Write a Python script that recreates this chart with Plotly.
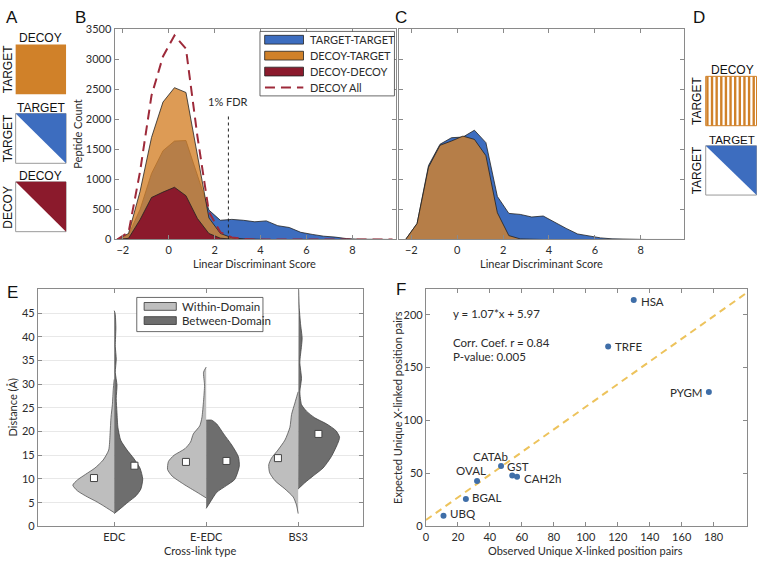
import plotly.graph_objects as go

W, H = 757, 562

# ---- panels B / C : peptide counts per linear discriminant score bin ----
lds_bins = [-2.25, -1.75, -1.25, -0.75, -0.25, 0.25, 0.75, 1.25, 1.75, 2.25, 2.75, 3.25,
            3.75, 4.25, 4.75, 5.25, 5.75, 6.25, 6.75, 7.25, 7.75, 8.25, 8.75, 9.25, 9.75]

b_target_target = [0, 80, 500, 1100, 1480, 1640, 1650, 1060, 490, 320, 335, 320,
                   295, 310, 230, 200, 120, 85, 55, 40, 15, 5, 0, 0, 0]
b_decoy_target = [0, 100, 800, 1700, 2290, 2530, 2450, 1370, 360, 100, 30, 10,
                  0, 0, 0, 0, 0, 0, 0, 0, 0, 0, 0, 0, 0]
b_decoy_decoy = [0, 20, 330, 700, 790, 870, 730, 350, 100, 22, 5, 0,
                 0, 0, 0, 0, 0, 0, 0, 0, 0, 0, 0, 0, 0]
b_decoy_all = [0, 120, 1130, 2400, 3050, 3400, 3180, 1720, 460, 120, 35, 10,
               0, 0, 0, 0, 0, 0, 0, 0, 0, 0, 0, 0, 0]

c_target_target = [0, 266, 1234, 1587, 1696, 1707, 1821, 1614, 717, 435, 418, 375,
                   391, 283, 185, 92, 54, 27, 11, 5, 0, 0, 0, 0, 0]
c_decoy_target = [0, 266, 1206, 1570, 1641, 1723, 1668, 1397, 446, 65, 10, 0,
                  0, 0, 0, 0, 0, 0, 0, 0, 0, 0, 0, 0, 0]

fdr_score = 2.6
fdr_top = 2100

# ---- panel E : split violins (distance, half width) ----
crosslinkers = ["EDC", "E-EDC", "BS3"]

edc_within_d = [2.9, 4.5, 5.3, 6.2, 7.5, 8.7, 9.8, 11.0, 12.3, 14.0, 16.1, 19.5, 23.0, 25.7, 29.0, 31.0]
edc_within_w = [0, 0.13, 0.2, 0.29, 0.40, 0.45, 0.40, 0.31, 0.21, 0.12, 0.06, 0.045, 0.035, 0.02, 0.01, 0]
edc_between_d = [2.7, 3.8, 5.1, 6.5, 7.9, 10.0, 12.3, 14.4, 16.1, 18.2, 20.9, 24.0, 27.0, 29.8,
                 32.5, 35.3, 38.0, 42.0, 44.9, 45.5]
edc_between_w = [0, 0.07, 0.15, 0.24, 0.29, 0.31, 0.28, 0.21, 0.14, 0.07, 0.04, 0.03, 0.022, 0.03,
                 0.012, 0.022, 0.012, 0.018, 0.01, 0]

eedc_within_d = [6.0, 7.2, 8.9, 10.6, 12.0, 13.7, 15.0, 16.4, 17.8, 19.5, 21.2, 22.9, 26.4, 29.8, 32.5, 33.6]
eedc_within_w = [0, 0.10, 0.245, 0.37, 0.42, 0.41, 0.35, 0.23, 0.17, 0.14, 0.07, 0.047, 0.029, 0.018, 0.029, 0]
eedc_between_d = [3.8, 5.1, 7.2, 8.6, 9.9, 12.7, 14.7, 17.1, 19.5, 21.6, 22.4, 22.4]
eedc_between_w = [0, 0.043, 0.115, 0.22, 0.31, 0.36, 0.35, 0.28, 0.19, 0.115, 0.06, 0]

bs3_within_d = [2.7, 4.5, 6.2, 7.9, 9.6, 11.3, 13.0, 14.4, 16.1, 18.2, 20.9, 23.6, 26.0, 27.7, 28.4]
bs3_within_w = [0, 0.018, 0.054, 0.144, 0.25, 0.31, 0.32, 0.29, 0.22, 0.144, 0.09, 0.072, 0.036, 0.011, 0]
bs3_between_d = [7.9, 9.2, 10.6, 12.3, 14.7, 17.5, 18.8, 20.2, 21.6, 22.9, 24.3, 25.7, 28.4, 31.2,
                 34.6, 38.0, 39.7, 42.8, 46.2, 50.0]
bs3_between_w = [0, 0.072, 0.16, 0.27, 0.36, 0.43, 0.45, 0.41, 0.31, 0.18, 0.09, 0.036, 0.018, 0.036,
                 0.018, 0.036, 0.043, 0.025, 0.011, 0.005]

within_mean = [10.2, 13.6, 14.4]
between_mean = [12.8, 13.8, 19.5]

# ---- panel F : observed vs expected cross-linked position pairs ----
proteins = ["HSA", "TRFE", "PYGM", "CATAb", "GST", "CAH2h", "OVAL", "BGAL", "UBQ"]
observed = [130, 114, 177, 47, 54, 57, 32, 25, 11]
expected = [214, 170, 127, 57, 48, 47, 43, 26, 10]
fit_x = [0, 200]
fit_y = [6, 220]

# label placement for panel F (anchor, x shift, y shift in px)
label_style = {
    "HSA": ("left", 5, -2), "TRFE": ("left", 5, 0), "PYGM": ("right", -4, -1),
    "CATAb": ("center", -11, 10), "GST": ("center", 6, 9), "CAH2h": ("left", 5, -2),
    "OVAL": ("center", -6, 10), "BGAL": ("left", 4, 1), "UBQ": ("left", 5, 2),
}

BLUE = "#3D6DBF"
ORANGE = "#D08129"
ORANGE_FILL = "rgba(212,130,42,0.8)"
RED = "#8B1A2C"
DASH_RED = "#9E2A3A"
LIGHT = "#BEBEBE"
DARK = "#6E6E6E"
FONT = "Lato, 'Open Sans', sans-serif"
ARIAL = "Liberation Sans, Arial, sans-serif"
TXT = "#2b2b2b"


def px(x):
    return x / W


def py(y):
    return 1 - y / H


fig = go.Figure()

# B
fig.add_trace(go.Scatter(x=lds_bins, y=b_target_target, fill="tozeroy", fillcolor=BLUE,
                         line=dict(color="#222", width=0.8), xaxis="x", yaxis="y"))
fig.add_trace(go.Scatter(x=lds_bins, y=b_decoy_target, fill="tozeroy", fillcolor=ORANGE_FILL,
                         line=dict(color="#222", width=0.8), xaxis="x", yaxis="y"))
fig.add_trace(go.Scatter(x=lds_bins, y=b_decoy_decoy, fill="tozeroy", fillcolor=RED,
                         line=dict(color="#222", width=0.8), xaxis="x", yaxis="y"))
fig.add_trace(go.Scatter(x=lds_bins, y=b_decoy_all, mode="lines",
                         line=dict(color=DASH_RED, width=2, dash="10px,6px"), xaxis="x", yaxis="y"))
fig.add_trace(go.Scatter(x=[fdr_score, fdr_score], y=[0, fdr_top], mode="lines",
                         line=dict(color="#222", width=1, dash="dot"), xaxis="x", yaxis="y"))

# C
fig.add_trace(go.Scatter(x=lds_bins, y=c_target_target, fill="tozeroy", fillcolor=BLUE,
                         line=dict(color="#222", width=0.8), xaxis="x2", yaxis="y2"))
fig.add_trace(go.Scatter(x=lds_bins, y=c_decoy_target, fill="tozeroy", fillcolor=ORANGE_FILL,
                         line=dict(color="#222", width=0.8), xaxis="x2", yaxis="y2"))

# E
violins = [
    (1, edc_within_d, edc_within_w, edc_between_d, edc_between_w),
    (2, eedc_within_d, eedc_within_w, eedc_between_d, eedc_between_w),
    (3, bs3_within_d, bs3_within_w, bs3_between_d, bs3_between_w),
]
for center, wd, ww, bd, bw in violins:
    fig.add_trace(go.Scatter(x=[center - w for w in ww], y=wd, fill="toself", fillcolor=LIGHT,
                             mode="lines", line=dict(color="#555", width=0.8, shape="spline", smoothing=0.6),
                             xaxis="x3", yaxis="y3"))
    fig.add_trace(go.Scatter(x=[center + w for w in bw], y=bd, fill="toself", fillcolor=DARK,
                             mode="lines", line=dict(color="#444", width=0.8, shape="spline", smoothing=0.6),
                             xaxis="x3", yaxis="y3"))
fig.add_trace(go.Scatter(x=[c - 0.22 for c in (1, 2, 3)], y=within_mean, mode="markers",
                         marker=dict(symbol="square", size=7, color="white", line=dict(color="#444", width=1)),
                         xaxis="x3", yaxis="y3"))
fig.add_trace(go.Scatter(x=[c + 0.22 for c in (1, 2, 3)], y=between_mean, mode="markers",
                         marker=dict(symbol="square", size=7, color="white", line=dict(color="#444", width=1)),
                         xaxis="x3", yaxis="y3"))

# F
fig.add_trace(go.Scatter(x=fit_x, y=fit_y, mode="lines",
                         line=dict(color="#EDC35C", width=2, dash="7px,5px"), xaxis="x4", yaxis="y4"))
fig.add_trace(go.Scatter(x=observed, y=expected, mode="markers",
                         marker=dict(size=6, color="#3F6EA8"), xaxis="x4", yaxis="y4"))

axis_common = dict(showline=True, linecolor="#8a8a8a", linewidth=1, mirror="ticks", ticks="inside",
                   ticklen=4, tickcolor="#8a8a8a", zeroline=False, showgrid=False,
                   tickfont=dict(family=FONT, size=11, color=TXT))

fig.update_layout(
    width=W, height=H, margin=dict(l=0, r=0, t=0, b=0), showlegend=False,
    paper_bgcolor="white", plot_bgcolor="white",
    xaxis=dict(axis_common, domain=[px(112), px(395)], range=[-2.36, 9.92], anchor="y",
               tickvals=[-2, 0, 2, 4, 6, 8]),
    yaxis=dict(axis_common, domain=[py(238), py(23)], range=[0, 3500], anchor="x",
               tickvals=[0, 500, 1000, 1500, 2000, 2500, 3000, 3500]),
    xaxis2=dict(axis_common, domain=[px(398), px(684)], range=[-2.52, 9.9], anchor="y2",
                tickvals=[-2, 0, 2, 4, 6, 8]),
    yaxis2=dict(axis_common, domain=[py(238), py(23)], range=[0, 3500], anchor="x2",
                tickvals=[0, 500, 1000, 1500, 2000, 2500, 3000, 3500], showticklabels=False),
    xaxis3=dict(axis_common, domain=[px(35), px(361)], range=[0.17, 3.7], anchor="y3",
                tickvals=[1, 2, 3], ticktext=crosslinkers),
    yaxis3=dict(axis_common, domain=[py(531.7), py(289)], range=[0, 50], anchor="x3",
                tickvals=[0, 5, 10, 15, 20, 25, 30, 35, 40, 45], showgrid=True, gridcolor="#E8E8E8"),
    xaxis4=dict(axis_common, domain=[px(424.6), px(746.7)], range=[0, 200.7], anchor="y4",
                tickvals=[0, 20, 40, 60, 80, 100, 120, 140, 160, 180]),
    yaxis4=dict(axis_common, domain=[py(531.7), py(289)], range=[0, 224], anchor="x4",
                tickvals=[0, 50, 100, 150, 200]),
)

shapes = []
ann = []


def text(x, y, s, size=11.5, angle=0, family=FONT, xanchor="center", yanchor="middle", color=TXT):
    ann.append(dict(x=px(x), y=py(y), xref="paper", yref="paper", text=s, showarrow=False,
                    font=dict(family=family, size=size, color=color), textangle=angle,
                    xanchor=xanchor, yanchor=yanchor))


def rect(x0, y0, x1, y1, fill, line="rgba(0,0,0,0)", lw=0):
    shapes.append(dict(type="rect", xref="paper", yref="paper", x0=px(x0), y0=py(y1), x1=px(x1), y1=py(y0),
                       fillcolor=fill, line=dict(color=line, width=lw)))


def tri_box(x0, y0, x1, y1, fill):
    rect(x0, y0, x1, y1, "white", "#9a9a9a", 1)
    path = f"M {px(x0)},{py(y0)} L {px(x1)},{py(y0)} L {px(x1)},{py(y1)} Z"
    shapes.append(dict(type="path", xref="paper", yref="paper", path=path, fillcolor=fill,
                       line=dict(width=0)))


# panel letters
for letter, x, y in [("A", 9, 11), ("B", 78, 11), ("C", 400, 11), ("D", 699, 11), ("E", 10, 292), ("F", 400, 289)]:
    text(x, y, letter, size=17, family=ARIAL, color="#111")

# panel A
rect(12.7, 38.3, 63.3, 89.3, ORANGE)
text(38, 32, "DECOY", size=12, family=ARIAL, color="#111")
text(5, 63.8, "TARGET", size=12, family=ARIAL, angle=-90, color="#111")
tri_box(12.7, 109, 63.3, 160, BLUE)
text(38, 103, "TARGET", size=12, family=ARIAL, color="#111")
text(5, 134.5, "TARGET", size=12, family=ARIAL, angle=-90, color="#111")
tri_box(12.7, 179, 63.3, 230, RED)
text(38, 173, "DECOY", size=12, family=ARIAL, color="#111")
text(5, 204.5, "DECOY", size=12, family=ARIAL, angle=-90, color="#111")

# panel D
rect(705.5, 71, 756.5, 121.5, "white", ORANGE, 1)
for k in range(11):
    sx = 706 + k * 4.65
    rect(sx, 71, sx + 2.4, 121.5, ORANGE)
text(756, 65, "DECOY", size=12, family=ARIAL, color="#111", xanchor="right")
text(697, 96, "TARGET", size=12, family=ARIAL, angle=-90, color="#111")
tri_box(705.5, 142, 756.5, 192.5, BLUE)
text(756.5, 136, "TARGET", size=11.5, family=ARIAL, color="#111", xanchor="right")
text(697, 167, "TARGET", size=12, family=ARIAL, angle=-90, color="#111")

# legend B
rect(258, 25, 393, 91, "white", "#444", 0.8)
rows = [33.5, 49.8, 66.1]
for yy, col, lab in zip(rows, [BLUE, ORANGE, RED], ["TARGET-TARGET", "DECOY-TARGET", "DECOY-DECOY"]):
    rect(262.7, yy - 4.5, 301.7, yy + 4.5, col, "#222", 0.8)
    text(306, yy, lab, size=11, xanchor="left")
shapes.append(dict(type="line", xref="paper", yref="paper", x0=px(263), x1=px(301.5), y0=py(82.4), y1=py(82.4),
                   line=dict(color=DASH_RED, width=2, dash="10px,6px")))
text(306, 82.4, "DECOY All", size=11, xanchor="left")

# FDR label
ann.append(dict(x=fdr_score, y=fdr_top + 60, xref="x", yref="y", text="1% FDR", showarrow=False,
                font=dict(family=FONT, size=11, color=TXT), yanchor="bottom"))

# F point labels
for name, ox, ey in zip(proteins, observed, expected):
    anchor, dx, dy = label_style[name]
    ann.append(dict(x=ox, y=ey, xref="x4", yref="y4", text=name, showarrow=False,
                    xanchor=anchor, yanchor="middle", xshift=dx, yshift=dy,
                    font=dict(family=FONT, size=11.5, color=TXT)))

# axis titles
text(75, 130, "Peptide Count", size=11, angle=-90)
text(253, 263, "Linear Discriminant Score", size=11)
text(541, 263, "Linear Discriminant Score", size=11)
text(10, 410, "Distance (Å)", size=11, angle=-90)
text(198, 556, "Cross-link type", size=11)
text(396, 410, "Expected Unique X-linked position pairs", size=11, angle=-90)
text(585, 556, "Observed Unique X-linked position pairs", size=11)

# legend E
rect(134.3, 297.3, 261, 332.3, "white", "#444", 0.8)
for yy, col, lab in [(306.5, LIGHT, "Within-Domain"), (321, DARK, "Between-Domain")]:
    rect(141.7, yy - 4, 174, yy + 4, col, "#333", 0.8)
    text(177.5, yy, lab, xanchor="left")

# F stats
text(450, 313.5, "y = 1.07*x + 5.97", xanchor="left")
text(450, 343, "Corr. Coef. r = 0.84", xanchor="left")
text(450, 357.5, "P-value: 0.005", xanchor="left")

fig.update_layout(shapes=shapes, annotations=ann)

fig.write_html("out.html", config={"displayModeBar": False},
               post_script="document.body.style.margin='0';")
